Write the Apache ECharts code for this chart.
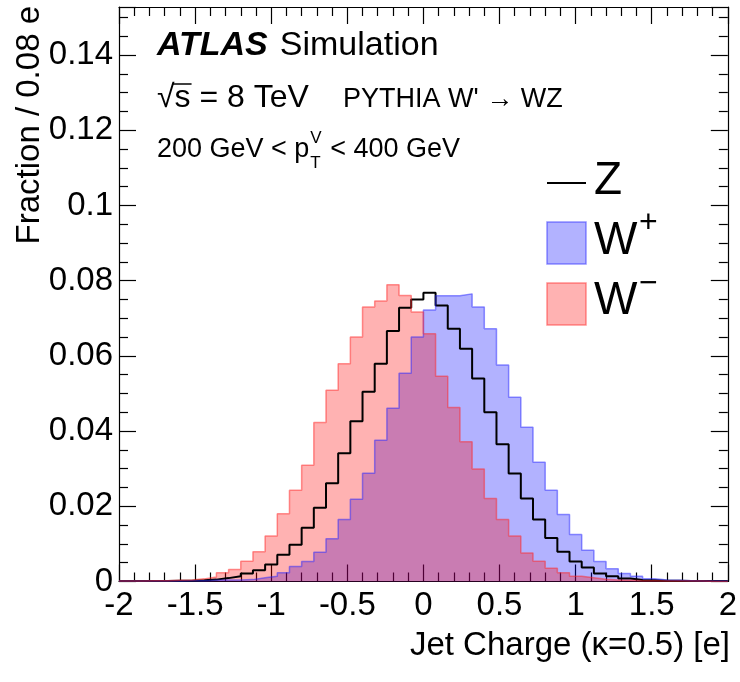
<!DOCTYPE html>
<html lang="en">
<head>
  <meta charset="UTF-8">
  <title>Jet Charge</title>
  <style>
    html, body { margin: 0; padding: 0; background: #fff; }
    #main { width: 740px; height: 682px; }
  </style>
</head>
<body>
  <div id="main"></div>
  <script src="https://cdn.jsdelivr.net/npm/echarts@6/dist/echarts.min.js"></script>
  <script>
    // binning: 50 bins of 0.08 e from -2 to 2
    var binStart = -2
    var binWidth = 0.08

    var zVals = [0.0001, 0.0001, 0.0001, 0.0001, 0.0002, 0.0002, 0.0003, 0.0005, 0.0009, 0.0014,
                 0.0021, 0.0030, 0.0045, 0.0071, 0.0098, 0.0143, 0.0196, 0.0261, 0.0341, 0.0426,
                 0.0505, 0.0579, 0.0666, 0.0728, 0.0750, 0.0768, 0.0734, 0.0672, 0.0619, 0.0540,
                 0.0450, 0.0365, 0.0287, 0.0221, 0.0165, 0.0116, 0.0079, 0.0053, 0.0037, 0.0021,
                 0.0014, 0.0008, 0.0004, 0.0003, 0.0002, 0.0002, 0.0001, 0.0001, 0.0001, 0.0001]

    var wPlusVals = [0.0001, 0.0001, 0.0001, 0.0001, 0.0001, 0.0002, 0.0002, 0.0003, 0.0004, 0.0004,
                     0.0005, 0.0010, 0.0014, 0.0023, 0.0040, 0.0053, 0.0078, 0.0114, 0.0165, 0.0219,
                     0.0288, 0.0376, 0.0461, 0.0554, 0.0650, 0.0722, 0.0760, 0.0760, 0.0765, 0.0730,
                     0.0672, 0.0576, 0.0490, 0.0410, 0.0317, 0.0243, 0.0178, 0.0125, 0.0083, 0.0053,
                     0.0034, 0.0021, 0.0014, 0.0007, 0.0004, 0.0003, 0.0002, 0.0001, 0.0001, 0.0001]

    var wMinusVals = [0.0001, 0.0001, 0.0002, 0.0002, 0.0003, 0.0004, 0.0007, 0.0012, 0.0023, 0.0032,
                      0.0054, 0.0079, 0.0121, 0.0180, 0.0243, 0.0309, 0.0423, 0.0509, 0.0579, 0.0650,
                      0.0730, 0.0746, 0.0789, 0.0761, 0.0717, 0.0659, 0.0546, 0.0463, 0.0372, 0.0299,
                      0.0221, 0.0165, 0.0121, 0.0076, 0.0054, 0.0035, 0.0023, 0.0014, 0.0010, 0.0006,
                      0.0004, 0.0003, 0.0002, 0.0002, 0.0001, 0.0001, 0.0001, 0.0001, 0.0000, 0.0000]

    var xRange = [-2, 2]
    var yRange = [0, 0.1528]

    var FONT = '"Liberation Sans", Arial, Helvetica, sans-serif'
    var ctx = document.createElement('canvas').getContext('2d')
    function tw(s, font) { ctx.font = font; return ctx.measureText(s).width }

    // histogram -> step polyline (left edge, right edge per bin)
    function steps(vals) {
      var pts = []
      vals.forEach(function (v, i) {
        var lo = +(binStart + i * binWidth).toFixed(4)
        var hi = +(lo + binWidth).toFixed(4)
        pts.push([lo, v], [hi, v])
      })
      return pts
    }

    var myChart = echarts.init(document.getElementById('main'))

    function xAx(pos, showLabel) {
      return {
        type: 'value', position: pos, min: xRange[0], max: xRange[1], interval: 0.5,
        axisLine: { onZero: false, lineStyle: { color: '#000', width: 1.2 } },
        axisTick: { inside: true, length: 17, lineStyle: { color: '#000', width: 1.2 } },
        minorTick: { show: true, splitNumber: 5, length: 9, lineStyle: { color: '#000', width: 1.2 } },
        splitLine: { show: false },
        axisLabel: { show: showLabel, color: '#000', fontSize: 33, fontFamily: FONT, margin: 8 }
      }
    }
    function yAx(pos, showLabel) {
      return {
        type: 'value', position: pos, min: yRange[0], max: yRange[1], interval: 0.02,
        axisLine: { onZero: false, lineStyle: { color: '#000', width: 1.2 } },
        axisTick: { inside: true, length: 17, lineStyle: { color: '#000', width: 1.2 } },
        minorTick: { show: true, splitNumber: 4, length: 9, lineStyle: { color: '#000', width: 1.2 } },
        splitLine: { show: false },
        axisLabel: { show: showLabel, color: '#000', fontSize: 33, fontFamily: FONT, margin: 6, showMaxLabel: false }
      }
    }

    function hist(name, vals, lineColor, fill, width) {
      var s = {
        name: name, type: 'line', data: steps(vals), symbol: 'none', showSymbol: false,
        lineStyle: { color: lineColor, width: width }, silent: true
      }
      if (fill) s.areaStyle = { color: fill, opacity: 1 }
      return s
    }

    // annotation text pieces
    var f34b = 'italic bold 34px ' + FONT
    var f34 = '34px ' + FONT
    var f32 = '32px ' + FONT
    var f27 = '27px ' + FONT
    var f17 = '17px ' + FONT
    var f46 = '46px ' + FONT
    var f32s = '32px ' + FONT

    function txt(s, x, y, font, align) {
      return {
        type: 'text', silent: true,
        style: { text: s, x: x, y: y, font: font, fill: '#000',
                 textAlign: align || 'left', align: align || 'left',
                 textVerticalAlign: 'middle', verticalAlign: 'middle' }
      }
    }

    var ax = 157
    var g = []
    g.push(txt('ATLAS', ax, 46, f34b))
    g.push(txt('Simulation', ax + tw('ATLAS', f34b) + 12, 46, f34))
    var rootW = tw('\u221A', f32)
    g.push(txt('\u221A', ax, 98, f32))
    g.push({ type: 'line', silent: true, shape: { x1: ax + rootW - 2, y1: 84, x2: ax + rootW + tw('s', f32) + 1, y2: 84 },
             style: { stroke: '#000', lineWidth: 1.5 } })
    g.push(txt('s = 8 TeV', ax + rootW, 98, f32))
    g.push(txt('PYTHIA W\' \u2192 WZ', 343, 100, f27))
    var p1 = '200 GeV < p'
    var p1w = tw(p1, f27)
    g.push(txt(p1, ax, 150, f27))
    g.push(txt('V', ax + p1w + 1, 138, f17))
    g.push(txt('T', ax + p1w + 1, 163, f17))
    g.push(txt(' < 400 GeV', ax + p1w + tw('V', f17) + 2, 150, f27))

    // legend
    g.push({ type: 'line', silent: true, shape: { x1: 547, y1: 183, x2: 586, y2: 183 }, style: { stroke: '#000', lineWidth: 2 } })
    g.push(txt('Z', 594, 181, f46))
    g.push({ type: 'rect', silent: true, shape: { x: 547, y: 222, width: 39, height: 42 },
             style: { fill: 'rgba(0,0,255,0.3)', stroke: 'rgba(40,40,255,0.5)', lineWidth: 1.5 } })
    g.push(txt('W', 594, 241, f46))
    g.push(txt('+', 639, 223, f32s))
    g.push({ type: 'rect', silent: true, shape: { x: 547, y: 283, width: 39, height: 42 },
             style: { fill: 'rgba(255,0,0,0.3)', stroke: 'rgba(255,40,40,0.5)', lineWidth: 1.5 } })
    g.push(txt('W', 594, 301, f46))
    g.push(txt('\u2212', 639, 284, f32s))

    // axis titles
    g.push(txt('Jet Charge (\u03BA=0.5) [e]', 730, 646, '33px ' + FONT, 'right'))
    g.push({
      type: 'text', silent: true, x: 30, y: 6, rotation: Math.PI / 2,
      style: { text: 'Fraction / 0.08 e', x: 0, y: 0, font: '33px ' + FONT, fill: '#000',
               textAlign: 'right', align: 'right', textVerticalAlign: 'middle', verticalAlign: 'middle' }
    })

    var options = {
      animation: false,
      backgroundColor: '#fff',
      grid: { left: 119, right: 10, top: 7, bottom: 100.5 },
      xAxis: [xAx('bottom', true), xAx('top', false)],
      yAxis: [yAx('left', true), yAx('right', false)],
      series: [
        hist('Z', zVals, '#000', null, 2),
        hist('W+', wPlusVals, 'rgba(40,40,255,0.5)', 'rgba(0,0,255,0.3)', 1.5),
        hist('W-', wMinusVals, 'rgba(255,40,40,0.5)', 'rgba(255,0,0,0.3)', 1.5)
      ],
      graphic: g
    }

    myChart.setOption(options)
  </script>
</body>
</html>
